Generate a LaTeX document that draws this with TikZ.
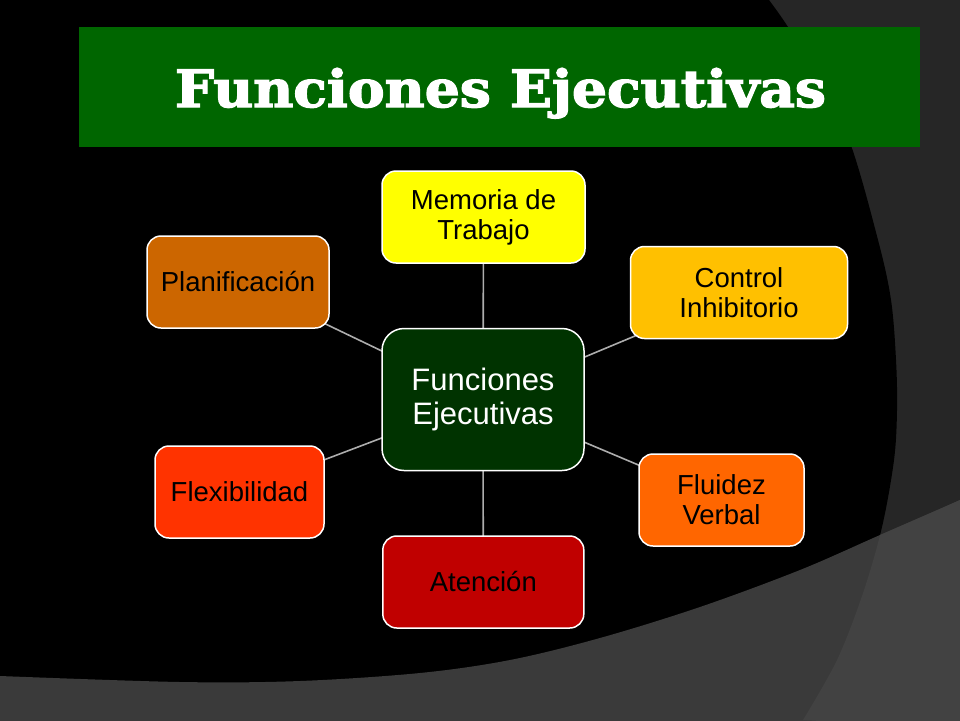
\documentclass[tikz,border=0pt]{standalone}
\usepackage{fontspec}
\usepackage{graphicx}
\setmainfont{Liberation Sans}
\newfontfamily\titlefont{DejaVu Serif}[BoldFeatures={FakeBold=2.5}]
\definecolor{topgray}{HTML}{262626}
\definecolor{botgray}{HTML}{3A3A3A}
\definecolor{botgraylt}{HTML}{424242}
\definecolor{titlegreen}{HTML}{006600}
\definecolor{centergreen}{HTML}{003300}
\definecolor{memcol}{HTML}{FFFF00}
\definecolor{ctrlcol}{HTML}{FFC000}
\definecolor{plancol}{HTML}{CC6600}
\definecolor{flexcol}{HTML}{FF3300}
\definecolor{flucol}{HTML}{FF6600}
\definecolor{atencol}{HTML}{C00000}
\definecolor{linkgray}{HTML}{ADADAD}
\pgfdeclarelayer{back}
\pgfdeclarelayer{links}
\pgfsetlayers{back,links,main}
\tikzset{
  box/.style={draw=white, line width=1.5pt, rounded corners=14pt, minimum height=92pt,
    inner sep=0pt, align=center, text=black, font=\fontsize{27.5}{30}\selectfont},
  hub/.style={box, rounded corners=22pt, minimum height=142pt, text=white,
    font=\fontsize{31}{34}\selectfont},
  link/.style={draw=linkgray, line width=1.6pt}
}
\begin{document}
\begin{tikzpicture}[x=1pt,y=-1pt]
\useasboundingbox (0,0) rectangle (960,720);
\begin{pgfonlayer}{back}
  \fill[topgray] (0,0) rectangle (960,720);
  \fill[black] (0,0) -- (769,0) -- plot[smooth, tension=0.55] coordinates
    {(769,0) (788,27) (813,70) (849,140) (878,240) (891,300) (896,360) (897,410) (894,460) (882,527) (863,593) (837,660) (803,720)}
    -- (0,720) -- cycle;
  \fill[botgray] (0,676) -- plot[smooth, tension=0.55] coordinates
    {(0,676) (180,682) (300,681) (420,673) (510,660) (600,638) (700,607) (800,570) (880,535) (960,500) (980,490)}
    -- (980,730) -- (0,730) -- cycle;
  \begin{scope}
    \clip (0,676) -- plot[smooth, tension=0.55] coordinates
      {(0,676) (180,682) (300,681) (420,673) (510,660) (600,638) (700,607) (800,570) (880,535) (960,500) (980,490)}
      -- (980,730) -- (0,730) -- cycle;
    \fill[botgraylt] (769,0) -- plot[smooth, tension=0.55] coordinates
      {(769,0) (788,27) (813,70) (849,140) (878,240) (891,300) (896,360) (897,410) (894,460) (882,527) (863,593) (837,660) (803,720)}
      -- (980,730) -- (980,0) -- cycle;
  \end{scope}
\end{pgfonlayer}

\node[fill=titlegreen, minimum width=841pt, minimum height=120pt, inner sep=0pt] (titlebar) at (499.5,87) {};
\node[anchor=base, inner sep=0pt, text=white] (titletext) at (500.5,107)
  {\resizebox{651pt}{39pt}{\titlefont\bfseries Funciones Ejecutivas}};

\node[hub, fill=centergreen, minimum width=202pt] (ctr) at (483,399.5) {Funciones\\Ejecutivas};
\node[box, fill=memcol, minimum width=203pt] (mem) at (483.5,217) {Memoria de\\Trabajo};
\node[box, fill=plancol, minimum width=182pt] (plan) at (238,282) {Planificación};
\node[box, fill=ctrlcol, minimum width=217pt] (ctrl) at (739,292.5) {Control\\Inhibitorio};
\node[box, fill=flucol, minimum width=165pt] (flu) at (721.5,500) {Fluidez\\Verbal};
\node[box, fill=flexcol, minimum width=169pt] (flex) at (239.5,492) {Flexibilidad};
\node[box, fill=atencol, minimum width=201pt] (aten) at (483.3,582) {Atención};

\begin{pgfonlayer}{links}
  \draw[link] (ctr.center) -- (mem.center);
  \draw[link] (ctr.center) -- (plan.center);
  \draw[link] (ctr.center) -- (ctrl.center);
  \draw[link] (ctr.center) -- (flu.center);
  \draw[link] (ctr.center) -- (flex.center);
  \draw[link] (ctr.center) -- (aten.center);
\end{pgfonlayer}
\end{tikzpicture}
\end{document}
